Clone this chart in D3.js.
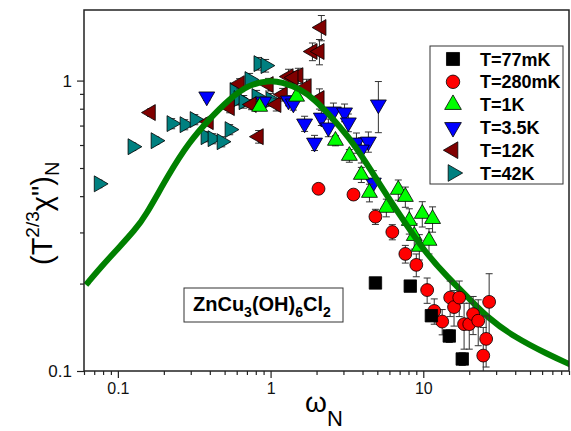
<!DOCTYPE html>
<html>
  <head>
    <meta charset="utf-8">
    <script src="https://d3js.org/d3.v7.min.js"></script>
    <style>
      body { margin: 0; background-color: white; }
      text { font-family: "Liberation Sans", Arial, sans-serif; }
    </style>
  </head>
  <body>
    <svg id="canvas" width="571" height="431"></svg>
    <script>
      // omega_N, (T^2/3 chi'')_N and relative error for each temperature
      const w77 = [4.86, 8.22, 11.3, 14.8, 18.0]
      const c77 = [0.201, 0.196, 0.155, 0.132, 0.110]
      const e77 = [0.03, 0.03, 0.04, 0.05, 0.05]

      const w280 = [2.06, 3.49, 4.86, 6.27, 7.63, 9.00, 10.6, 11.8, 13.3, 15.0, 15.9, 17.2, 18.5, 20.0, 21.2, 22.9, 27.0, 25.8, 24.7]
      const c280 = [0.424, 0.405, 0.340, 0.301, 0.253, 0.232, 0.190, 0.161, 0.148, 0.179, 0.166, 0.179, 0.145, 0.145, 0.157, 0.149, 0.173, 0.129, 0.113]
      const e280 = [0.02, 0.02, 0.06, 0.06, 0.07, 0.09, 0.1, 0.1, 0.1, 0.14, 0.14, 0.14, 0.18, 0.18, 0.15, 0.18, 0.25, 0.2, 0.25]

      const w1K = [0.848, 1.48, 2.66, 3.28, 3.93, 4.44, 5.73, 6.86, 7.63, 8.10, 9.85, 8.73, 10.9, 9.42, 11.5]
      const c1K = [0.813, 0.881, 0.621, 0.551, 0.474, 0.411, 0.365, 0.421, 0.398, 0.329, 0.348, 0.292, 0.281, 0.268, 0.334]
      const e1K = [0.03, 0.03, 0.04, 0.05, 0.06, 0.07, 0.07, 0.08, 0.08, 0.1, 0.1, 0.1, 0.1, 0.1, 0.1]

      const w35K = [0.382, 0.900, 1.31, 1.41, 1.67, 1.94, 2.15, 2.58, 3.05, 3.23, 2.39, 3.65, 4.37, 5.08, 3.93, 4.71]
      const c35K = [0.881, 0.846, 0.853, 0.833, 0.711, 0.611, 0.745, 0.782, 0.776, 0.717, 0.689, 0.611, 0.616, 0.827, 0.578, 0.445]
      const e35K = [0.03, 0.04, 0.04, 0.05, 0.06, 0.06, 0.06, 0.07, 0.07, 0.07, 0.07, 0.08, 0.08, 0.2, 0.1, 0.1]

      const w12K = [0.164, 0.393, 0.540, 0.627, 0.751, 0.835, 0.970, 1.09, 1.20, 1.31, 1.52, 1.72, 2.09, 1.88, 2.09, 2.15, 1.41]
      const c12K = [0.776, 0.722, 0.807, 0.976, 0.827, 0.641, 0.969, 0.827, 0.895, 1.032, 1.040, 0.953, 0.867, 1.259, 1.259, 1.523, 1.024]
      const e12K = [0.03, 0.03, 0.04, 0.04, 0.04, 0.05, 0.05, 0.05, 0.05, 0.06, 0.06, 0.06, 0.08, 0.07, 0.1, 0.1, 0.05]

      const w42K = [0.0751, 0.125, 0.177, 0.225, 0.274, 0.319, 0.376, 0.418, 0.479, 0.540, 0.582, 0.729, 0.618, 0.667, 0.810, 1.0, 0.835, 0.928]
      const c42K = [0.441, 0.592, 0.621, 0.711, 0.705, 0.734, 0.641, 0.631, 0.616, 0.678, 0.924, 1.008, 0.867, 0.846, 0.881, 0.860, 1.144, 1.126]
      const e42K = [0.03, 0.03, 0.03, 0.04, 0.04, 0.04, 0.04, 0.04, 0.04, 0.04, 0.05, 0.05, 0.05, 0.05, 0.05, 0.05, 0.05, 0.05]

      // scaling curve
      const curveW = [0.0618, 0.0786, 0.1016, 0.129, 0.150, 0.216, 0.291, 0.394, 0.531, 0.718, 0.97, 1.18, 1.59, 1.94, 2.50, 3.23, 4.11, 5.31, 6.86, 10.2, 14.6, 19.7, 26.6, 39.4, 65.6, 92.7]
      const curveC = [0.198, 0.230, 0.266, 0.306, 0.338, 0.478, 0.611, 0.734, 0.860, 0.969, 1.0, 0.99, 0.931, 0.860, 0.751, 0.641, 0.534, 0.431, 0.351, 0.257, 0.209, 0.179, 0.152, 0.131, 0.114, 0.105]

      const xMajor = [0.1, 1, 10]
      const yMajor = [0.1, 1]

      const margin = { top: 10, right: 2, bottom: 60, left: 84 }
      const svg = d3.select('#canvas')
      const width = +svg.attr('width') - margin.left - margin.right
      const height = +svg.attr('height') - margin.top - margin.bottom
      const g = svg.append('g').attr('transform', `translate(${margin.left}, ${margin.top})`)

      const x = d3.scaleLog().domain([0.06, 90]).range([0, width])
      const y = d3.scaleLog().domain([0.1, 1.75]).range([height, 0])

      // minor ticks: every integer multiple inside the domain
      const minor = (dom) => {
        const out = []
        for (let p = -2; p <= 2; p++) {
          for (let k = 2; k < 10; k++) {
            const v = k * Math.pow(10, p)
            if (v >= dom[0] * 0.999 && v <= dom[1] * 1.001) out.push(v)
          }
        }
        return out
      }

      const axisStyle = sel => {
        sel.select('.domain').remove()
        sel.selectAll('line').attr('stroke', '#222').attr('stroke-width', 1.2)
        sel.selectAll('text').attr('fill', '#111').style('font-size', '16px')
      }

      g.append('g').attr('transform', `translate(0, ${height})`)
        .call(d3.axisBottom(x).tickValues(minor(x.domain())).tickSize(4).tickFormat(''))
        .call(axisStyle)
      g.append('g').attr('transform', `translate(0, ${height})`)
        .call(d3.axisBottom(x).tickValues(xMajor).tickSize(7).tickPadding(5).tickFormat(d3.format('')))
        .call(axisStyle)
      g.append('g')
        .call(d3.axisLeft(y).tickValues(minor(y.domain())).tickSize(4).tickFormat(''))
        .call(axisStyle)
      g.append('g')
        .call(d3.axisLeft(y).tickValues(yMajor).tickSize(7).tickPadding(5).tickFormat(d3.format('')))
        .call(axisStyle)
        .selectAll('text').style('font-size', '17px')

      g.append('clipPath').attr('id', 'plotClip')
        .append('rect').attr('width', width).attr('height', height)

      const plot = g.append('g').attr('clip-path', 'url(#plotClip)')

      const series = [
        { label: 'T=77mK', w: w77, c: c77, e: e77, color: '#000000', sym: d3.symbolSquare, rot: 0, size: 155 },
        { label: 'T=280mK', w: w280, c: c280, e: e280, color: '#ff0000', sym: d3.symbolCircle, rot: 0, size: 130 },
        { label: 'T=1K', w: w1K, c: c1K, e: e1K, color: '#00ff00', sym: d3.symbolTriangle, rot: 0, size: 110 },
        { label: 'T=3.5K', w: w35K, c: c35K, e: e35K, color: '#0000ff', sym: d3.symbolTriangle, rot: 180, size: 110 },
        { label: 'T=12K', w: w12K, c: c12K, e: e12K, color: '#800000', sym: d3.symbolTriangle, rot: 270, size: 110 },
        { label: 'T=42K', w: w42K, c: c42K, e: e42K, color: '#008080', sym: d3.symbolTriangle, rot: 90, size: 110 }
      ]

      const drawSeries = s => {
        const pts = s.w.map((w, i) => ({ w: w, c: s.c[i], e: s.e[i] }))
        const grp = plot.append('g')
        const bars = grp.selectAll('g.err').data(pts).enter().append('g').attr('class', 'err')
          .attr('stroke', '#333').attr('stroke-width', 1)
        bars.append('line')
          .attr('x1', d => x(d.w)).attr('x2', d => x(d.w))
          .attr('y1', d => y(d.c * (1 + d.e))).attr('y2', d => y(d.c * (1 - d.e)))
        bars.append('line')
          .attr('x1', d => x(d.w) - 3.5).attr('x2', d => x(d.w) + 3.5)
          .attr('y1', d => y(d.c * (1 + d.e))).attr('y2', d => y(d.c * (1 + d.e)))
        bars.append('line')
          .attr('x1', d => x(d.w) - 3.5).attr('x2', d => x(d.w) + 3.5)
          .attr('y1', d => y(d.c * (1 - d.e))).attr('y2', d => y(d.c * (1 - d.e)))
        grp.selectAll('path').data(pts).enter().append('path')
          .attr('d', d3.symbol().type(s.sym).size(s.size))
          .attr('transform', d => `translate(${x(d.w)}, ${y(d.c)}) rotate(${s.rot})`)
          .attr('fill', s.color)
          .attr('stroke', '#000')
          .attr('stroke-width', 0.8)
      }

      // back to front: high temperatures first, curve, then low temperatures
      ;[5, 4, 3, 2].forEach(i => drawSeries(series[i]))

      const curvePts = curveW.map((w, i) => [w, curveC[i]])
      plot.append('path')
        .datum(curvePts)
        .attr('fill', 'none')
        .attr('stroke', '#008000')
        .attr('stroke-width', 6)
        .attr('d', d3.line().x(d => x(d[0])).y(d => y(d[1])).curve(d3.curveBasis))

      ;[1, 0].forEach(i => drawSeries(series[i]))

      // frame
      g.append('rect')
        .attr('width', width).attr('height', height)
        .attr('fill', 'none').attr('stroke', '#222').attr('stroke-width', 1.5)

      // legend
      const lg = g.append('g').attr('transform', `translate(${430 - margin.left}, ${46 - margin.top})`)
      lg.append('rect').attr('width', 133).attr('height', 138)
        .attr('fill', 'white').attr('stroke', '#333').attr('stroke-width', 1)
      series.forEach((s, i) => {
        const row = lg.append('g').attr('transform', `translate(0, ${13 + i * 22.8})`)
        row.append('path')
          .attr('d', d3.symbol().type(s.sym).size(s.size * 1.1))
          .attr('transform', `translate(23, 0) rotate(${s.rot})`)
          .attr('fill', s.color).attr('stroke', '#000').attr('stroke-width', 0.8)
        row.append('text').attr('x', 50).attr('y', 6.5)
          .style('font-size', '18px').style('font-weight', 'bold')
          .text(s.label)
      })

      // sample label
      const sg = g.append('g').attr('transform', `translate(${184 - margin.left}, ${288 - margin.top})`)
      sg.append('rect').attr('width', 159).attr('height', 34)
        .attr('fill', 'white').attr('stroke', '#333').attr('stroke-width', 1)
      const st = sg.append('text').attr('x', 9).attr('y', 23)
        .style('font-size', '20px').style('font-weight', 'bold')
      const parts = [['ZnCu', 0], ['3', 1], ['(OH)', 0], ['6', 1], ['Cl', 0], ['2', 1]]
      parts.forEach(p => {
        st.append('tspan').text(p[0])
          .style('font-size', p[1] ? '14px' : '20px')
          .attr('dy', p[1] ? 6 : (p[0] === 'ZnCu' ? 0 : -6))
      })

      // axis titles
      const xt = svg.append('text').attr('x', 305).attr('y', 412).style('font-size', '28px')
      xt.append('tspan').text('ω')
      xt.append('tspan').text('N').attr('dy', 14).style('font-size', '22px')

      const yt = svg.append('text')
        .attr('transform', 'translate(52, 265) rotate(-90)')
        .style('font-size', '29px')
      yt.append('tspan').text('(T')
      yt.append('tspan').text('2/3').attr('dy', -13).style('font-size', '19px')
      yt.append('tspan').text('χ")').attr('dy', 13)
      yt.append('tspan').text('N').attr('dy', 7).style('font-size', '20px')
    </script>
  </body>
</html>
